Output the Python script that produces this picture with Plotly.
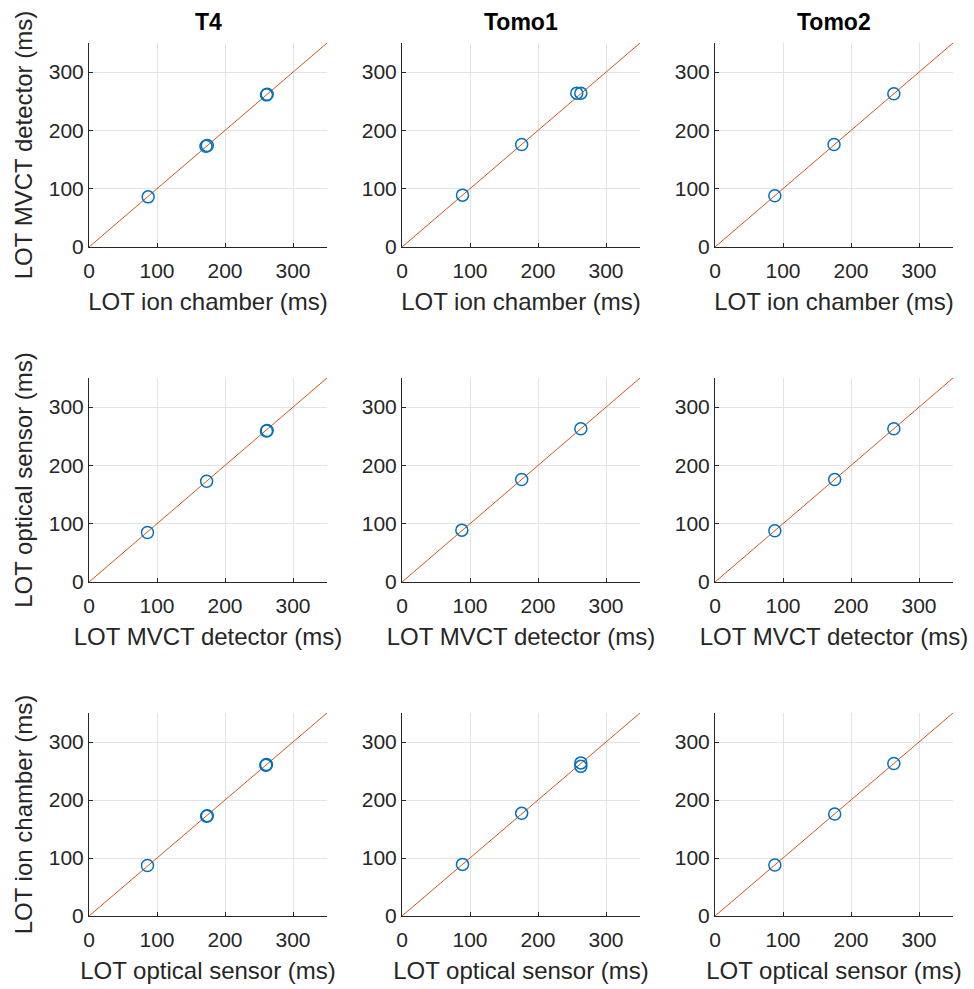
import plotly.graph_objects as go

# ---- data ----
systems = ["T4", "Tomo1", "Tomo2"]
x_titles = ["LOT ion chamber (ms)", "LOT MVCT detector (ms)", "LOT optical sensor (ms)"]
y_titles = ["LOT MVCT detector (ms)", "LOT optical sensor (ms)", "LOT ion chamber (ms)"]
tick_vals = [0, 100, 200, 300]
axis_range = [0, 350]
identity_line = [0, 350]

# row 1: ion chamber (x) vs MVCT detector (y)
t4_ic_x = [87, 172, 174, 261, 262]
t4_mvct_y = [86, 173, 174, 261, 262]
tomo1_ic_x = [89, 176, 257, 263]
tomo1_mvct_y = [89, 176, 264, 264]
tomo2_ic_x = [88, 175, 263]
tomo2_mvct_y = [88, 176, 263]

# row 2: MVCT detector (x) vs optical sensor (y)
t4_mvct_x = [86, 173, 261, 262]
t4_opt_y = [85, 173, 259, 260]
tomo1_mvct_x = [88, 176, 263]
tomo1_opt_y = [89, 176, 263]
tomo2_mvct_x = [88, 176, 263]
tomo2_opt_y = [88, 176, 263]

# row 3: optical sensor (x) vs ion chamber (y)
t4_opt_x = [86, 173, 174, 260, 261]
t4_ic_y = [87, 172, 173, 260, 261]
tomo1_opt_x = [89, 176, 263, 263]
tomo1_ic_y = [89, 177, 264, 258]
tomo2_opt_x = [88, 176, 263]
tomo2_ic_y = [88, 176, 263]

panels = [
    [(t4_ic_x, t4_mvct_y), (tomo1_ic_x, tomo1_mvct_y), (tomo2_ic_x, tomo2_mvct_y)],
    [(t4_mvct_x, t4_opt_y), (tomo1_mvct_x, tomo1_opt_y), (tomo2_mvct_x, tomo2_opt_y)],
    [(t4_opt_x, t4_ic_y), (tomo1_opt_x, tomo1_ic_y), (tomo2_opt_x, tomo2_ic_y)],
]

# ---- layout geometry ----
W, H = 974, 989
col_px = [(89, 327), (402, 640), (715, 953)]
row_px = [(43, 247), (378, 582), (713, 916)]

FONT = "Liberation Sans, Arial, sans-serif"
AX_COLOR = "#262626"
GRID = "#e3e3e3"
BLUE = "#0072BD"
ORANGE = "#D95319"

fig = go.Figure()
layout = dict(
    width=W, height=H,
    margin=dict(l=0, r=0, t=0, b=0, autoexpand=False),
    paper_bgcolor="white", plot_bgcolor="white",
    showlegend=False,
    font=dict(family=FONT, color=AX_COLOR),
)

annotations = []
idx = 0
for r in range(3):
    for c in range(3):
        idx += 1
        xa = "x" if idx == 1 else f"x{idx}"
        ya = "y" if idx == 1 else f"y{idx}"
        xs, ys = panels[r][c]
        fig.add_trace(go.Scatter(
            x=identity_line, y=identity_line, mode="lines",
            line=dict(color=ORANGE, width=1), xaxis=xa, yaxis=ya,
            hoverinfo="skip"))
        fig.add_trace(go.Scatter(
            x=xs, y=ys, mode="markers",
            marker=dict(symbol="circle-open", size=12, color=BLUE,
                        line=dict(width=1.5, color=BLUE)),
            xaxis=xa, yaxis=ya))
        x0, x1 = col_px[c]
        y0, y1 = row_px[r]
        common = dict(
            range=axis_range, tickvals=tick_vals, showgrid=True, gridcolor=GRID,
            gridwidth=1, zeroline=False, showline=True, linecolor=AX_COLOR,
            linewidth=1, ticks="inside", ticklen=4, tickcolor=AX_COLOR,
            tickfont=dict(size=21, family=FONT, color=AX_COLOR),
            fixedrange=True, automargin=False,
        )
        layout["xaxis" if idx == 1 else f"xaxis{idx}"] = dict(
            common, domain=[x0 / W, x1 / W],
            anchor=ya, ticklabelstandoff=5,
            title=dict(text=x_titles[r], font=dict(size=24, family=FONT, color=AX_COLOR), standoff=11),
        )
        yd = dict(common, domain=[1 - y1 / H, 1 - y0 / H], anchor=xa)
        if c == 0:
            yd["title"] = dict(text=y_titles[r], font=dict(size=24, family=FONT, color=AX_COLOR), standoff=9)
        layout["yaxis" if idx == 1 else f"yaxis{idx}"] = yd

for c in range(3):
    x0, x1 = col_px[c]
    annotations.append(dict(
        text=f"<b>{systems[c]}</b>", x=(x0 + x1) / 2 / W, y=1 - 22 / H,
        xref="paper", yref="paper", showarrow=False,
        font=dict(size=23, family=FONT, color="#000000"),
        xanchor="center", yanchor="middle"))

layout["annotations"] = annotations
fig.update_layout(**layout)
fig.write_html("out.html")
